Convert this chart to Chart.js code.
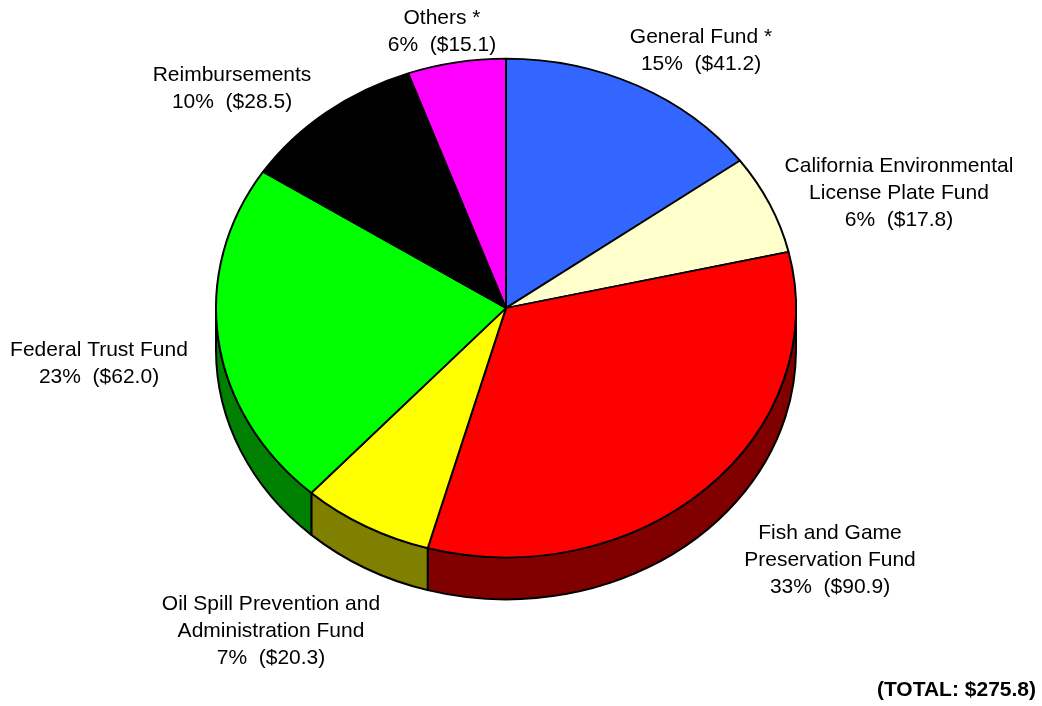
<!DOCTYPE html>
<html>
<head>
<meta charset="utf-8">
<script src="https://cdn.jsdelivr.net/npm/chart.js@4"></script>
<style>
  body { margin: 0; background: #fff; }
  #wrap { width: 1042px; height: 706px; }
</style>
</head>
<body>
<div id="wrap"><canvas id="fund_pie"></canvas></div>
<script>
// fund sources, clockwise from 12 o'clock ($ millions)
const categories = [
  ['General Fund *'],
  ['California Environmental', 'License Plate Fund'],
  ['Fish and Game', 'Preservation Fund'],
  ['Oil Spill Prevention and', 'Administration Fund'],
  ['Federal Trust Fund'],
  ['Reimbursements'],
  ['Others *']
];
const amounts = [41.2, 17.8, 90.9, 20.3, 62.0, 28.5, 15.1];
const shares = [15, 6, 33, 7, 23, 10, 6];

const topColors = ['#3366ff', '#ffffcc', '#ff0000', '#ffff00', '#00ff00', '#000000', '#ff00ff'];
const sideColors = ['#1a3380', '#808066', '#800000', '#808000', '#008000', '#000000', '#800080'];

// label anchor (center x, middle of first line y)
const labelPos = [[701, 37], [899, 166], [830, 533], [271, 604], [99, 350], [232, 75], [442, 18]];
const lineH = 27;
const tilt = 0.86;   // vertical squash of the pie top
const depth = 42;    // thickness of the pie wall

const pie3d = {
  id: 'pie3d',
  beforeDatasetsDraw(chart) {
    const ctx = chart.ctx;
    const arcs = chart.getDatasetMeta(0).data;
    // front wall, only the part of each slice facing the viewer
    ctx.save();
    ctx.lineWidth = 2;
    ctx.strokeStyle = '#000';
    ctx.lineJoin = 'round';
    arcs.forEach((arc, i) => {
      const a1 = Math.max(arc.startAngle, 0);
      const a2 = Math.min(arc.endAngle, Math.PI);
      if (a2 <= a1) return;
      const r = arc.outerRadius;
      ctx.beginPath();
      ctx.ellipse(arc.x, arc.y, r, r * tilt, 0, a1, a2);
      ctx.ellipse(arc.x, arc.y + depth, r, r * tilt, 0, a2, a1, true);
      ctx.closePath();
      ctx.fillStyle = sideColors[i];
      ctx.fill();
      ctx.stroke();
    });
    ctx.restore();
    // squash the top face into an ellipse
    const cy = arcs[0].y;
    ctx.save();
    ctx.translate(0, cy);
    ctx.scale(1, tilt);
    ctx.translate(0, -cy);
  },
  afterDatasetsDraw(chart) {
    chart.ctx.restore();
  },
  afterDraw(chart) {
    const ctx = chart.ctx;
    ctx.save();
    ctx.fillStyle = '#000';
    ctx.textAlign = 'center';
    ctx.textBaseline = 'middle';
    ctx.font = '21px "Liberation Sans", Arial, sans-serif';
    categories.forEach((lines, i) => {
      const [x, y] = labelPos[i];
      const all = lines.concat([shares[i] + '%  ($' + amounts[i].toFixed(1) + ')']);
      all.forEach((t, j) => ctx.fillText(t, x, y + j * lineH));
    });
    const total = amounts.reduce((s, v) => s + v, 0);
    ctx.font = 'bold 21px "Liberation Sans", Arial, sans-serif';
    ctx.textAlign = 'right';
    ctx.fillText('(TOTAL: $' + total.toFixed(1) + ')', 1036, 690);
    ctx.restore();
  }
};

const ctx = document.getElementById('fund_pie').getContext('2d');

new Chart(ctx, {
  type: 'pie',
  data: {
    labels: categories.map(l => l.join(' ')),
    datasets: [{
      data: amounts,
      backgroundColor: topColors,
      borderColor: '#000',
      borderWidth: 2
    }]
  },
  options: {
    responsive: true,
    maintainAspectRatio: false,
    animation: false,
    layout: { padding: { left: 215, right: 245, top: 17, bottom: 107 } },
    plugins: {
      legend: { display: false },
      tooltip: { enabled: false }
    }
  },
  plugins: [pie3d]
});
</script>
</body>
</html>
